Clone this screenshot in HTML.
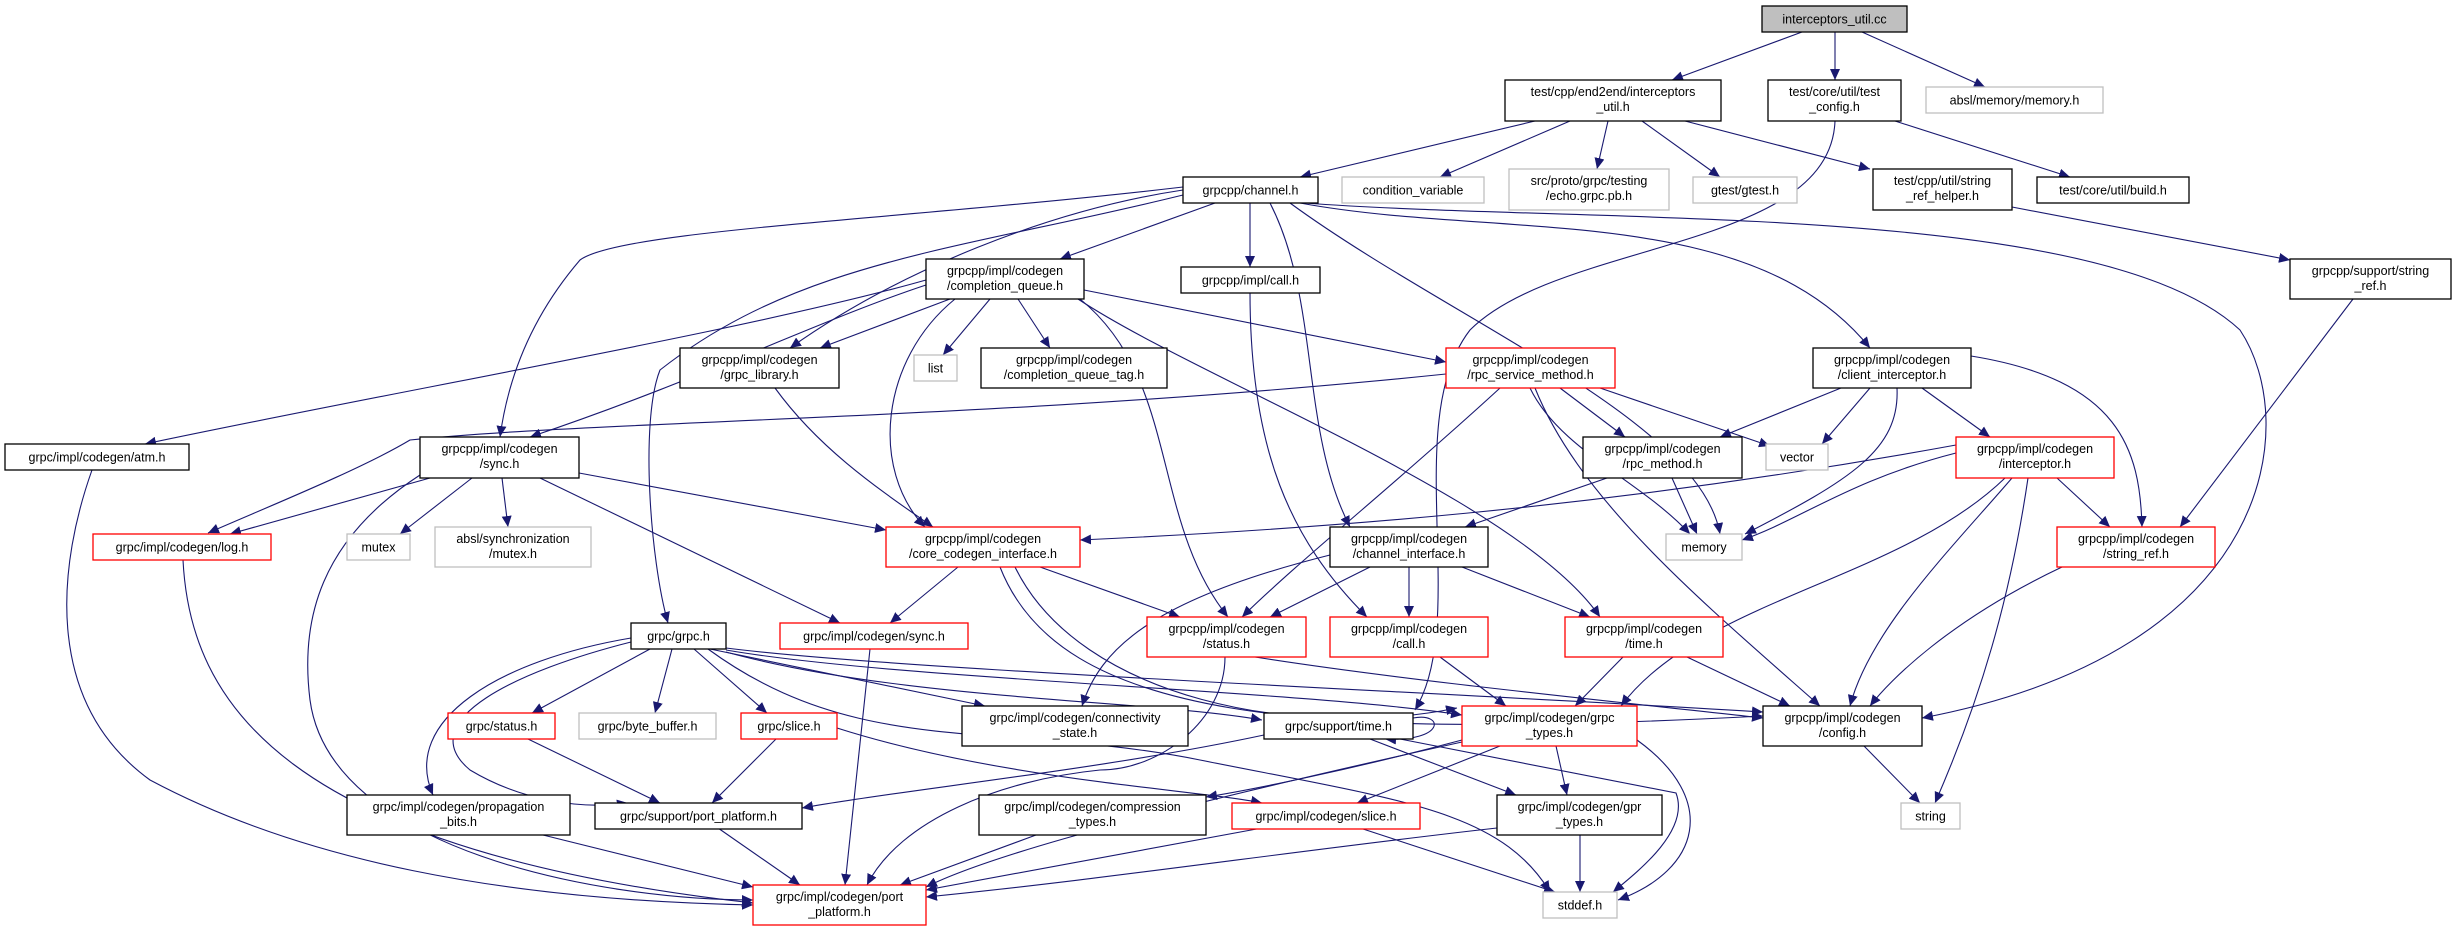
<!DOCTYPE html>
<html><head><meta charset="utf-8"><style>
html,body{margin:0;padding:0;background:#fff;}
svg{display:block;}
text{font-family:"Liberation Sans","DejaVu Sans",sans-serif;font-size:12.5px;fill:#000;text-anchor:middle;}
.n{fill:#fff;stroke:#000;stroke-width:1.3;}
.r{fill:#fff;stroke:#ff0000;stroke-width:1.3;}
.g{fill:#fff;stroke:#bfbfbf;stroke-width:1.3;}
.e{fill:none;stroke:#191970;stroke-width:1.1;marker-end:url(#a);}
</style></head><body>
<svg width="2456" height="931" viewBox="0 0 2456 931" xmlns="http://www.w3.org/2000/svg">
<defs><marker id="a" markerUnits="userSpaceOnUse" markerWidth="12" markerHeight="10" refX="11" refY="5" orient="auto"><path d="M0,0 L11,5 L0,10 z" fill="#191970"/></marker></defs>
<g>
<path class="e" d="M1802,32 L1672,80"/>
<path class="e" d="M1835,32 L1835,80"/>
<path class="e" d="M1862,32 L1985,87"/>
<path class="e" d="M1535,121 L1300,177"/>
<path class="e" d="M1570,121 L1440,177"/>
<path class="e" d="M1608,121 L1597,169"/>
<path class="e" d="M1642,121 L1720,177"/>
<path class="e" d="M1685,121 L1870,169"/>
<path class="e" d="M1895,121 L2070,177"/>
<path class="e" d="M1835,121 C1830,250 1560,240 1470,330 C1400,420 1470,620 1415,710"/>
<path class="e" d="M2012,207 L2290,260"/>
<path class="e" d="M2353,299 L2180,527"/>
<path class="e" d="M1215,203 L1060,259"/>
<path class="e" d="M1250,203 L1250,267"/>
<path class="e" d="M1183,190 C1050,210 900,270 790,348"/>
<path class="e" d="M1183,187 C900,220 620,230 580,260 C520,330 505,400 500,437"/>
<path class="e" d="M1183,195 C960,250 800,260 660,370 C640,420 650,560 668,623"/>
<path class="e" d="M1270,203 C1320,300 1300,430 1350,527"/>
<path class="e" d="M1290,203 C1450,320 1700,420 1720,534"/>
<path class="e" d="M1300,203 C1500,240 1750,200 1870,348"/>
<path class="e" d="M1305,203 C1600,225 2100,200 2240,330 C2300,420 2280,650 1922,718"/>
<path class="e" d="M950,299 L820,348"/>
<path class="e" d="M990,299 L943,355"/>
<path class="e" d="M1018,299 L1050,348"/>
<path class="e" d="M1084,290 L1446,362"/>
<path class="e" d="M926,285 C820,320 700,380 530,437"/>
<path class="e" d="M926,280 C750,330 400,390 145,444"/>
<path class="e" d="M955,299 C880,360 870,470 925,527"/>
<path class="e" d="M1080,299 C1180,380 1150,520 1228,617"/>
<path class="e" d="M1078,299 C1200,380 1520,500 1600,617"/>
<path class="e" d="M1250,292 C1250,450 1290,540 1367,617"/>
<path class="e" d="M775,388 C820,450 880,490 933,527"/>
<path class="e" d="M1446,374 C1000,420 600,420 410,440 C360,470 260,510 208,533"/>
<path class="e" d="M1560,388 L1625,437"/>
<path class="e" d="M1600,388 L1770,446"/>
<path class="e" d="M1530,388 C1560,450 1640,480 1690,534"/>
<path class="e" d="M1500,388 C1400,480 1300,560 1242,617"/>
<path class="e" d="M1535,388 C1580,500 1700,600 1820,706"/>
<path class="e" d="M1841,388 L1720,437"/>
<path class="e" d="M1870,388 L1822,444"/>
<path class="e" d="M1897,388 C1900,450 1850,480 1745,534"/>
<path class="e" d="M1922,388 L1990,437"/>
<path class="e" d="M1971,356 C2120,380 2140,450 2142,527"/>
<path class="e" d="M1956,445 C1600,510 1300,530 1080,540"/>
<path class="e" d="M1956,453 C1850,480 1800,520 1742,540"/>
<path class="e" d="M2057,478 L2110,527"/>
<path class="e" d="M2012,478 C1950,550 1870,630 1850,706"/>
<path class="e" d="M2005,478 C1900,580 1700,600 1621,706"/>
<path class="e" d="M2028,478 C2010,600 1980,700 1935,803"/>
<path class="e" d="M1607,478 L1465,527"/>
<path class="e" d="M1672,478 L1697,534"/>
<path class="e" d="M92,470 C60,560 40,700 150,780 C300,860 500,900 753,905"/>
<path class="e" d="M430,478 L230,534"/>
<path class="e" d="M472,478 L400,534"/>
<path class="e" d="M502,478 L508,527"/>
<path class="e" d="M540,478 L840,623"/>
<path class="e" d="M579,473 L886,530"/>
<path class="e" d="M420,475 C320,540 300,620 310,700 C330,850 600,900 753,900"/>
<path class="e" d="M183,560 C190,700 280,850 753,903"/>
<path class="e" d="M958,567 L890,623"/>
<path class="e" d="M1040,567 L1180,617"/>
<path class="e" d="M1015,567 C1080,700 1300,740 1457,708"/>
<path class="e" d="M1000,567 C1060,720 1300,740 1763,716"/>
<path class="e" d="M1370,567 L1270,617"/>
<path class="e" d="M1409,567 L1409,617"/>
<path class="e" d="M1462,567 L1590,617"/>
<path class="e" d="M1330,555 C1150,600 1100,650 1082,706"/>
<path class="e" d="M870,649 L845,885"/>
<path class="e" d="M1255,657 C1400,680 1600,700 1763,718"/>
<path class="e" d="M1225,657 C1225,720 1160,770 1100,770 C1000,780 900,820 867,885"/>
<path class="e" d="M1440,657 L1506,706"/>
<path class="e" d="M1623,657 L1575,706"/>
<path class="e" d="M1687,657 L1790,706"/>
<path class="e" d="M2062,567 C1950,620 1890,680 1870,706"/>
<path class="e" d="M650,649 L532,713"/>
<path class="e" d="M672,649 L655,713"/>
<path class="e" d="M694,649 L767,713"/>
<path class="e" d="M710,649 L985,706"/>
<path class="e" d="M631,638 C500,660 400,720 433,795"/>
<path class="e" d="M631,642 C520,670 410,720 470,770 C520,800 580,810 628,803"/>
<path class="e" d="M726,652 C900,700 1150,700 1262,720"/>
<path class="e" d="M726,650 C900,680 1300,690 1462,715"/>
<path class="e" d="M726,648 C900,670 1400,690 1763,712"/>
<path class="e" d="M708,649 C860,760 1000,720 1200,760 C1400,800 1500,810 1550,892"/>
<path class="e" d="M528,739 L660,803"/>
<path class="e" d="M776,739 L712,803"/>
<path class="e" d="M837,728 C1000,780 1200,790 1262,803"/>
<path class="e" d="M1413,718 C1445,712 1445,742 1385,739"/>
<path class="e" d="M1264,735 C1100,770 900,790 802,808"/>
<path class="e" d="M1370,739 L1516,795"/>
<path class="e" d="M1400,739 L1676,793 C1690,830 1640,870 1613,892"/>
<path class="e" d="M1462,740 C1350,770 1250,790 1206,797"/>
<path class="e" d="M1500,746 L1357,803"/>
<path class="e" d="M1556,746 L1567,795"/>
<path class="e" d="M1637,740 C1720,800 1700,870 1618,900"/>
<path class="e" d="M1462,742 C1200,800 1000,850 926,887"/>
<path class="e" d="M1036,835 L900,885"/>
<path class="e" d="M1262,828 L926,890"/>
<path class="e" d="M1360,828 L1555,892"/>
<path class="e" d="M1497,828 C1300,850 1100,880 926,897"/>
<path class="e" d="M1580,835 L1580,892"/>
<path class="e" d="M1864,746 L1920,803"/>
<path class="e" d="M543,835 L753,887"/>
<path class="e" d="M718,828 L800,885"/>
</g>
<g>
<rect x="1762" y="6" width="145" height="26" fill="#bfbfbf" stroke="#000" stroke-width="1.3"/><text x="1834.5" y="23.5">interceptors_util.cc</text>
<rect class="n" x="1505" y="80" width="216" height="41"/><text x="1613" y="96">test/cpp/end2end/interceptors</text><text x="1613" y="111">_util.h</text>
<rect class="n" x="1768" y="80" width="133" height="41"/><text x="1834.5" y="96">test/core/util/test</text><text x="1834.5" y="111">_config.h</text>
<rect class="g" x="1926" y="87" width="177" height="26"/><text x="2014.5" y="104.5">absl/memory/memory.h</text>
<rect class="n" x="1183" y="177" width="135" height="26"/><text x="1250.5" y="194.5">grpcpp/channel.h</text>
<rect class="g" x="1342" y="177" width="142" height="26"/><text x="1413" y="194.5">condition_variable</text>
<rect class="g" x="1509" y="169" width="160" height="41"/><text x="1589" y="185">src/proto/grpc/testing</text><text x="1589" y="200">/echo.grpc.pb.h</text>
<rect class="g" x="1693" y="177" width="104" height="26"/><text x="1745" y="194.5">gtest/gtest.h</text>
<rect class="n" x="1873" y="169" width="139" height="41"/><text x="1942.5" y="185">test/cpp/util/string</text><text x="1942.5" y="200">_ref_helper.h</text>
<rect class="n" x="2037" y="177" width="152" height="26"/><text x="2113" y="194.5">test/core/util/build.h</text>
<rect class="n" x="926" y="259" width="158" height="40"/><text x="1005" y="275">grpcpp/impl/codegen</text><text x="1005" y="290">/completion_queue.h</text>
<rect class="n" x="1181" y="267" width="139" height="26"/><text x="1250.5" y="284.5">grpcpp/impl/call.h</text>
<rect class="n" x="2290" y="259" width="161" height="40"/><text x="2370.5" y="275">grpcpp/support/string</text><text x="2370.5" y="290">_ref.h</text>
<rect class="n" x="680" y="348" width="159" height="40"/><text x="759.5" y="364">grpcpp/impl/codegen</text><text x="759.5" y="379">/grpc_library.h</text>
<rect class="g" x="914" y="355" width="43" height="26"/><text x="935.5" y="372.5">list</text>
<rect class="n" x="981" y="348" width="186" height="40"/><text x="1074" y="364">grpcpp/impl/codegen</text><text x="1074" y="379">/completion_queue_tag.h</text>
<rect class="r" x="1446" y="348" width="169" height="40"/><text x="1530.5" y="364">grpcpp/impl/codegen</text><text x="1530.5" y="379">/rpc_service_method.h</text>
<rect class="n" x="1813" y="348" width="158" height="40"/><text x="1892" y="364">grpcpp/impl/codegen</text><text x="1892" y="379">/client_interceptor.h</text>
<rect class="n" x="5" y="444" width="184" height="26"/><text x="97" y="461.5">grpc/impl/codegen/atm.h</text>
<rect class="n" x="420" y="437" width="159" height="41"/><text x="499.5" y="453">grpcpp/impl/codegen</text><text x="499.5" y="468">/sync.h</text>
<rect class="n" x="1583" y="437" width="159" height="41"/><text x="1662.5" y="453">grpcpp/impl/codegen</text><text x="1662.5" y="468">/rpc_method.h</text>
<rect class="g" x="1766" y="444" width="62" height="26"/><text x="1797" y="461.5">vector</text>
<rect class="r" x="1956" y="437" width="158" height="41"/><text x="2035" y="453">grpcpp/impl/codegen</text><text x="2035" y="468">/interceptor.h</text>
<rect class="r" x="93" y="534" width="178" height="26"/><text x="182" y="551.5">grpc/impl/codegen/log.h</text>
<rect class="g" x="347" y="534" width="63" height="26"/><text x="378.5" y="551.5">mutex</text>
<rect class="g" x="435" y="527" width="156" height="40"/><text x="513" y="543">absl/synchronization</text><text x="513" y="558">/mutex.h</text>
<rect class="r" x="886" y="527" width="194" height="40"/><text x="983" y="543">grpcpp/impl/codegen</text><text x="983" y="558">/core_codegen_interface.h</text>
<rect class="n" x="1330" y="527" width="158" height="40"/><text x="1409" y="543">grpcpp/impl/codegen</text><text x="1409" y="558">/channel_interface.h</text>
<rect class="g" x="1666" y="534" width="76" height="26"/><text x="1704" y="551.5">memory</text>
<rect class="r" x="2057" y="527" width="158" height="40"/><text x="2136" y="543">grpcpp/impl/codegen</text><text x="2136" y="558">/string_ref.h</text>
<rect class="n" x="631" y="623" width="95" height="26"/><text x="678.5" y="640.5">grpc/grpc.h</text>
<rect class="r" x="780" y="623" width="188" height="26"/><text x="874" y="640.5">grpc/impl/codegen/sync.h</text>
<rect class="r" x="1147" y="617" width="159" height="40"/><text x="1226.5" y="633">grpcpp/impl/codegen</text><text x="1226.5" y="648">/status.h</text>
<rect class="r" x="1330" y="617" width="158" height="40"/><text x="1409" y="633">grpcpp/impl/codegen</text><text x="1409" y="648">/call.h</text>
<rect class="r" x="1565" y="617" width="158" height="40"/><text x="1644" y="633">grpcpp/impl/codegen</text><text x="1644" y="648">/time.h</text>
<rect class="r" x="448" y="713" width="107" height="26"/><text x="501.5" y="730.5">grpc/status.h</text>
<rect class="g" x="579" y="713" width="137" height="26"/><text x="647.5" y="730.5">grpc/byte_buffer.h</text>
<rect class="r" x="741" y="713" width="96" height="26"/><text x="789" y="730.5">grpc/slice.h</text>
<rect class="n" x="962" y="706" width="226" height="40"/><text x="1075" y="722">grpc/impl/codegen/connectivity</text><text x="1075" y="737">_state.h</text>
<rect class="n" x="1264" y="713" width="149" height="26"/><text x="1338.5" y="730.5">grpc/support/time.h</text>
<rect class="r" x="1462" y="706" width="175" height="40"/><text x="1549.5" y="722">grpc/impl/codegen/grpc</text><text x="1549.5" y="737">_types.h</text>
<rect class="n" x="1763" y="706" width="159" height="40"/><text x="1842.5" y="722">grpcpp/impl/codegen</text><text x="1842.5" y="737">/config.h</text>
<rect class="n" x="347" y="795" width="223" height="40"/><text x="458.5" y="811">grpc/impl/codegen/propagation</text><text x="458.5" y="826">_bits.h</text>
<rect class="n" x="595" y="803" width="207" height="26"/><text x="698.5" y="820.5">grpc/support/port_platform.h</text>
<rect class="n" x="979" y="795" width="227" height="40"/><text x="1092.5" y="811">grpc/impl/codegen/compression</text><text x="1092.5" y="826">_types.h</text>
<rect class="r" x="1232" y="803" width="188" height="26"/><text x="1326" y="820.5">grpc/impl/codegen/slice.h</text>
<rect class="n" x="1497" y="795" width="165" height="40"/><text x="1579.5" y="811">grpc/impl/codegen/gpr</text><text x="1579.5" y="826">_types.h</text>
<rect class="g" x="1901" y="803" width="59" height="26"/><text x="1930.5" y="820.5">string</text>
<rect class="r" x="753" y="885" width="173" height="40"/><text x="839.5" y="901">grpc/impl/codegen/port</text><text x="839.5" y="916">_platform.h</text>
<rect class="g" x="1543" y="892" width="74" height="26"/><text x="1580" y="909.5">stddef.h</text>
</g>
</svg>
</body></html>
